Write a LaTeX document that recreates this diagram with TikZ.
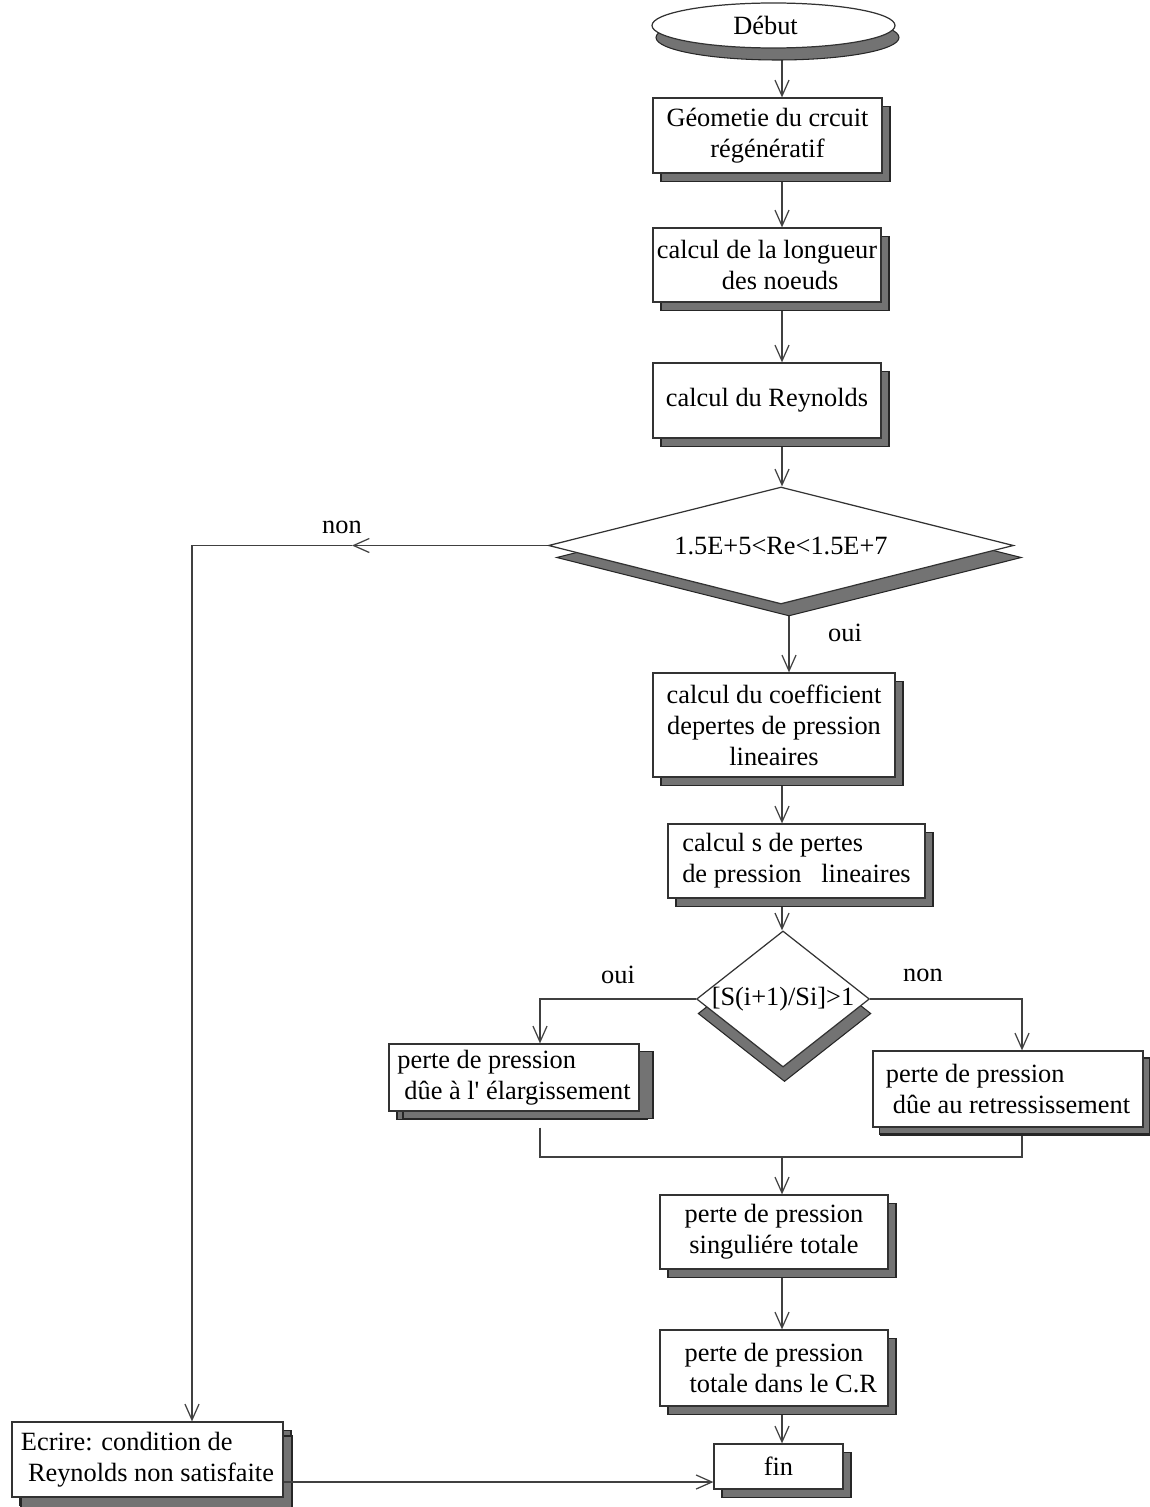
\documentclass[tikz,border=0pt]{standalone}
\usepackage{fontspec}
\setmainfont{Liberation Serif}
\usetikzlibrary{shapes.geometric,shadows,arrows.meta,backgrounds}

\begin{document}
\begin{tikzpicture}[
    font=\fontsize{7.5}{8.8}\selectfont,
    every node/.style={draw=black!80, line width=0.35pt, fill=white, inner sep=0pt},
    sh/.style 2 args={drop shadow={shadow xshift=#1, shadow yshift=#2, fill=black!55, draw=black!85, line width=0.3pt, opacity=1}},
    bloc/.style={rectangle, align=center, sh={0.8mm}{-0.85mm}},
    test/.style={diamond},
    flow/.style={draw=black!75, line width=0.35pt, -{Straight Barb[length=4.5pt,width=4pt]}},
    lien/.style={draw=black!75, line width=0.35pt},
    lbl/.style={draw=none, fill=none}
]
    \useasboundingbox (0,0) rectangle (11.49,-15.07);

    \node[ellipse, minimum width=2.43cm, minimum height=0.45cm, sh={0.4mm}{-1.2mm}] (debut) at (7.735,-0.255) {Début\hspace*{0.6em}};
    \node[bloc, minimum width=2.29cm, minimum height=0.75cm] (geom) at (7.675,-1.355) {Géometie du crcuit\\régénératif};
    \node[bloc, minimum width=2.28cm, minimum height=0.74cm] (long) at (7.67,-2.65) {calcul de la longueur\\\hspace*{1em}des noeuds};
    \node[bloc, minimum width=2.28cm, minimum height=0.75cm] (reyn) at (7.67,-4.005) {calcul du Reynolds};
    \node[test, aspect=4, minimum width=4.65cm, minimum height=1.17cm, sh={0.8mm}{-1.2mm}] (cond) at (7.81,-5.455) {1.5E+5<Re<1.5E+7};
    \node[bloc, minimum width=2.42cm, minimum height=1.04cm] (coef) at (7.74,-7.25) {calcul du coefficient\\depertes de pression\\lineaires};
    \node[bloc, align=left, minimum width=2.57cm, minimum height=0.74cm] (pertlin) at (7.965,-8.61) {calcul s de pertes\\de pression\ \ \ lineaires};
    \node[test, aspect=1.27, minimum width=1.68cm, minimum height=1.32cm, sh={0.15mm}{-1.45mm}] (ratio) at (7.83,-9.99) {[S(i+1)/Si]>1};
    \node[bloc, align=left, minimum width=2.50cm, minimum height=0.67cm, sh={1.4mm}{-0.75mm}] (elarg) at (5.14,-10.775) {perte de pression\\\hspace*{2pt}dûe à l\textquotesingle{} élargissement};
    \node[bloc, align=left, minimum width=2.70cm, minimum height=0.76cm, sh={0.65mm}{-0.7mm}] (retr) at (10.08,-10.89) {perte de pression\\\hspace*{2pt}dûe au retressissement};
    \node[bloc, minimum width=2.28cm, minimum height=0.74cm] (sing) at (7.74,-12.32) {perte de pression\\singuliére totale};
    \node[bloc, minimum width=2.28cm, minimum height=0.76cm] (tot) at (7.74,-13.68) {perte de pression\\\hspace*{0.7em}totale dans le C.R};
    \node[bloc, minimum width=1.29cm, minimum height=0.45cm] (fin) at (7.785,-14.665) {fin};
    \node[bloc, align=left, minimum width=2.71cm, minimum height=0.75cm, sh={0.9mm}{-1.4mm}] (ecr) at (1.475,-14.595) {Ecrire: condition de\\\hspace*{2pt}Reynolds non satisfaite};

    \node[lbl] (non1) at (3.42,-5.27) {non};
    \node[lbl] (oui1) at (8.45,-6.33) {oui};
    \node[lbl] (oui2) at (6.18,-9.75) {oui};
    \node[lbl] (non2) at (9.23,-9.75) {non};

    \coordinate (spine) at (7.82,0);
    \coordinate (spineb) at (7.89,0);
    \coordinate (gauche) at (5.40,0);
    \coordinate (droite) at (10.22,0);
    \coordinate (nonmid) at (3.52,-5.455);
    \coordinate (noncorner) at (1.92,-5.455);
    \coordinate (jonction) at (7.82,-11.57);

    \begin{scope}[on background layer]
    \foreach \a/\b in {debut/geom, geom/long, long/reyn, reyn/cond, coef/pertlin, pertlin/ratio, sing/tot, tot/fin}
    \draw[flow] (\a.south -| spine) -- (\b.north -| spine);
    \draw[flow] (cond.south -| spineb) -- (coef.north -| spineb);
    % branche non du test Reynolds
    \draw[flow] (cond.west) -- (nonmid);
    \draw[flow] (nonmid) -- (noncorner) -- (noncorner |- ecr.north);
    % branches du test des sections
    \draw[flow] (ratio.west) -- (ratio.west -| gauche) -- (elarg.north -| gauche);
    \draw[flow] (ratio.east) -- (ratio.east -| droite) -- (retr.north -| droite);
    \draw[lien] ([yshift=-1.6mm]elarg.south -| gauche) -- (jonction -| gauche) -- (jonction -| droite) -- (retr.south -| droite);
    \draw[flow] (jonction) -- (sing.north -| spine);
    \end{scope}

    \draw[flow] ([yshift=-2.25mm]ecr.east) -- ([yshift=-2.25mm]ecr.east -| fin.west);
\end{tikzpicture}
\end{document}
